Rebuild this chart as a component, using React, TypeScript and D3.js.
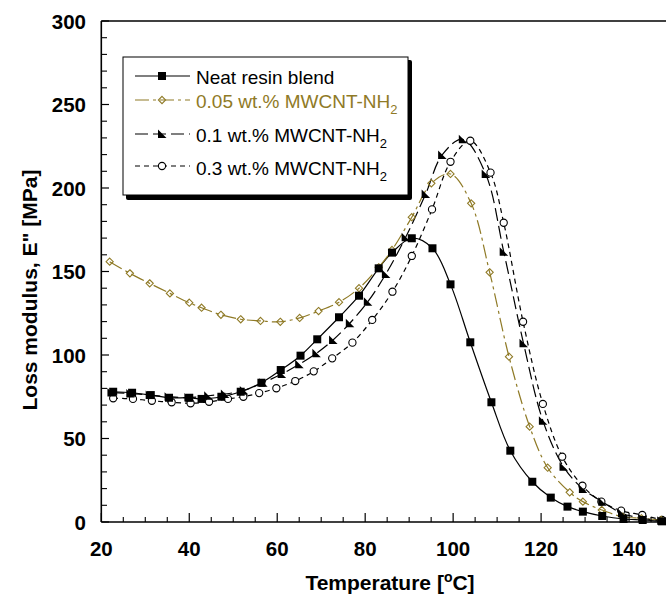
import React from "react";
import * as d3 from "d3";

const neatT = [22.7, 27.0, 31.25, 35.4, 40.0, 42.8, 47.3, 51.7, 56.4, 60.8, 65.3, 69.1, 74.05, 78.6, 83.07, 86.1, 90.6, 95.3, 99.4, 103.9, 108.7, 113.0, 118.0, 122.2, 126.0, 129.5, 133.9, 138.75, 143.1, 147.5];
const neatE = [78.0, 77.4, 76.0, 74.4, 74.4, 73.7, 75.0, 78.0, 83.4, 91.0, 99.6, 109.4, 122.6, 135.5, 151.9, 161.3, 169.9, 163.9, 142.3, 107.6, 71.7, 42.7, 24.1, 14.6, 9.2, 6.2, 3.6, 1.8, 1.2, 0.4];

const c005T = [21.9, 26.5, 31.0, 35.6, 40.0, 42.8, 47.2, 51.7, 56.2, 60.7, 65.1, 69.4, 74.05, 78.6, 83.07, 86.1, 90.6, 95.05, 99.4, 104.1, 108.3, 112.7, 117.4, 121.5, 126.5, 129.5, 133.8, 138.5, 142.8, 147.3];
const c005E = [155.9, 148.9, 142.9, 136.9, 131.3, 128.3, 124.1, 121.4, 120.4, 119.9, 122.2, 126.3, 131.6, 140.0, 152.5, 162.9, 182.5, 202.8, 208.4, 190.8, 149.5, 99.0, 57.1, 32.5, 17.8, 12.2, 7.2, 3.2, 2.2, 1.2];

const c01T = [22.3, 26.6, 31.0, 35.3, 39.8, 44.3, 48.1, 52.4, 56.8, 61.0, 65.0, 68.9, 72.7, 76.5, 80.6, 84.7, 89.2, 93.75, 97.5, 102.2, 107.4, 111.5, 116.0, 120.4, 125.1, 129.5, 133.9, 138.4, 143.0, 147.3];
const c01E = [77.5, 77.0, 76.0, 75.0, 74.5, 75.6, 76.6, 78.8, 83.4, 88.6, 94.4, 101.0, 109.0, 119.0, 131.9, 148.5, 170.5, 196.4, 219.8, 229.2, 208.4, 161.9, 107.0, 60.7, 33.1, 19.8, 12.2, 5.2, 2.2, 0.8];

const c03T = [22.7, 27.2, 31.5, 36.0, 40.3, 44.5, 48.8, 52.3, 55.9, 59.8, 64.1, 68.3, 72.5, 77.1, 81.6, 86.2, 90.6, 95.2, 99.4, 103.9, 108.5, 111.5, 115.9, 120.4, 124.8, 129.4, 133.7, 138.2, 143.0, 147.5];
const c03E = [74.1, 73.7, 72.6, 71.7, 71.1, 72.0, 73.7, 75.0, 77.2, 80.1, 84.4, 90.2, 98.0, 107.4, 121.0, 137.9, 159.3, 187.2, 215.7, 228.3, 209.2, 179.2, 119.9, 70.7, 39.1, 21.7, 12.2, 6.8, 4.2, 1.2];

const xTicks = [20, 40, 60, 80, 100, 120, 140];
const yTicks = [0, 50, 100, 150, 200, 250, 300];
const seriesNames = ["Neat resin blend", "0.05 wt.% MWCNT-NH", "0.1 wt.% MWCNT-NH", "0.3 wt.% MWCNT-NH"];

const GOLD = "#8f7a26";
const FONT = "'Liberation Sans', Arial, Helvetica, sans-serif";

type Kind = "square" | "diamond" | "triangle" | "circle";

function Marker({ kind, x, y }: { kind: Kind; x: number; y: number }) {
  if (kind === "square") return <rect x={x - 4} y={y - 4} width={8} height={8} fill="#000" />;
  if (kind === "diamond")
    return <path d={`M${x},${y - 3.6}L${x + 3.6},${y}L${x},${y + 3.6}L${x - 3.6},${y}Z`} fill="none" stroke={GOLD} strokeWidth={1.1} />;
  if (kind === "triangle")
    return <path d={`M${x - 4},${y - 4.5}L${x + 4.5},${y + 4}L${x - 4},${y + 4}Z`} fill="#000" />;
  return <circle cx={x} cy={y} r={3.6} fill="#fff" stroke="#000" strokeWidth={1.1} />;
}

export default function App() {
  const W = 666, H = 597;
  const x = d3.scaleLinear().domain([20, 148.4]).range([101.3, 666]);
  const y = d3.scaleLinear().domain([0, 300]).range([522, 21]);

  const series = [
    { name: seriesNames[0], T: neatT, E: neatE, kind: "square" as Kind, color: "#000", dash: "none" },
    { name: seriesNames[1], T: c005T, E: c005E, kind: "diamond" as Kind, color: GOLD, dash: "14,4,3,4" },
    { name: seriesNames[2], T: c01T, E: c01E, kind: "triangle" as Kind, color: "#000", dash: "13,5" },
    { name: seriesNames[3], T: c03T, E: c03E, kind: "circle" as Kind, color: "#000", dash: "5,4" },
  ];

  const line = d3
    .line<[number, number]>()
    .x((d) => x(d[0]))
    .y((d) => y(d[1]))
    .curve(d3.curveCatmullRom.alpha(0.5));

  const xMinor = d3.range(20, 149, 5).filter((v) => v % 20 !== 0);
  const yMinor = d3.range(0, 301, 10).filter((v) => v % 50 !== 0);

  const legendY = [76, 100, 134, 166];
  const legendTextY = [84, 108, 142, 175];

  return (
    <svg width={W} height={H} style={{ position: "absolute", left: 0, top: 0, background: "#fff" }} fontFamily={FONT}>
      <rect x={0} y={0} width={W} height={H} fill="#fff" />
      {/* series lines */}
      {series.map((s, i) => (
        <path
          key={"l" + i}
          d={line(s.T.map((t, j) => [t, s.E[j]] as [number, number])) || ""}
          fill="none"
          stroke={s.color}
          strokeWidth={1.2}
          strokeDasharray={s.dash}
        />
      ))}
      {/* markers: draw circles, diamonds first then triangles, squares */}
      {[3, 1, 2, 0].map((i) => {
        const s = series[i];
        return s.T.map((t, j) => <Marker key={`m${i}-${j}`} kind={s.kind} x={x(t)} y={y(s.E[j])} />);
      })}

      {/* axes */}
      <line x1={101.3} x2={666} y1={522} y2={522} stroke="#000" strokeWidth={1.6} />
      <line x1={101.3} x2={666} y1={21} y2={21} stroke="#000" strokeWidth={1.4} />
      <line x1={101.3} x2={101.3} y1={21} y2={522} stroke="#000" strokeWidth={1.6} />
      {xTicks.map((t) => (
        <g key={"xt" + t}>
          <line x1={x(t)} x2={x(t)} y1={522} y2={513} stroke="#000" strokeWidth={1.2} />
          <text x={x(t)} y={556} textAnchor="middle" fontSize={20.5} fontWeight="bold">
            {t}
          </text>
        </g>
      ))}
      {xMinor.map((t) => (
        <line key={"xm" + t} x1={x(t)} x2={x(t)} y1={522} y2={517} stroke="#000" strokeWidth={1.1} />
      ))}
      {yTicks.map((t) => (
        <g key={"yt" + t}>
          <line x1={101.3} x2={109} y1={y(t)} y2={y(t)} stroke="#000" strokeWidth={1.2} />
          <text x={86} y={y(t) + 7.5} textAnchor="end" fontSize={20.5} fontWeight="bold">
            {t}
          </text>
        </g>
      ))}
      {yMinor.map((t) => (
        <line key={"ym" + t} x1={101.3} x2={107} y1={y(t)} y2={y(t)} stroke="#000" strokeWidth={1.1} />
      ))}

      {/* axis titles */}
      <text x={390} y={590} textAnchor="middle" fontSize={21} fontWeight="bold">
        Temperature [<tspan dy={-8} fontSize={14}>o</tspan>
        <tspan dy={8}>C]</tspan>
      </text>
      <text transform="translate(37,290) rotate(-90)" textAnchor="middle" fontSize={21} fontWeight="bold">
        Loss modulus, E" [MPa]
      </text>

      {/* legend */}
      <rect x={126} y={60} width={286} height={140} fill="#000" rx={2} />
      <rect x={123} y={57} width={285} height={138} fill="#fff" stroke="#000" strokeWidth={1} />
      {series.map((s, i) => (
        <g key={"lg" + i}>
          <line x1={135} x2={190} y1={legendY[i]} y2={legendY[i]} stroke={s.color} strokeWidth={1.2} strokeDasharray={s.dash === "none" ? undefined : s.dash} />
          <Marker kind={s.kind} x={162} y={legendY[i]} />
          <text x={196} y={legendTextY[i]} fontSize={19} fill={i === 1 ? GOLD : "#000"}>
            {s.name}
            {i > 0 ? (
              <tspan dy={6} fontSize={13}>
                2
              </tspan>
            ) : null}
          </text>
        </g>
      ))}
    </svg>
  );
}
